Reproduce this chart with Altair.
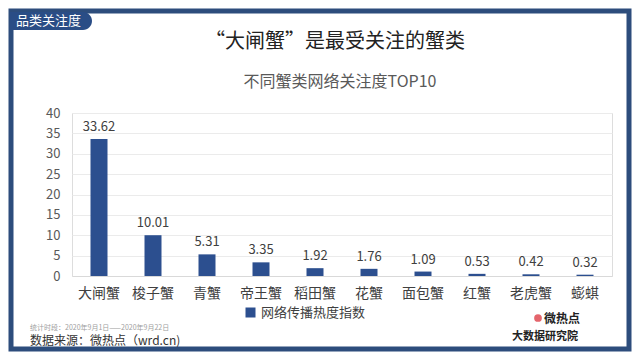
import altair as alt
import pandas as pd

categories = ["大闸蟹", "梭子蟹", "青蟹", "帝王蟹", "稻田蟹", "花蟹", "面包蟹", "红蟹", "老虎蟹", "蟛蜞"]
values = [33.62, 10.01, 5.31, 3.35, 1.92, 1.76, 1.09, 0.53, 0.42, 0.32]
series_name = "网络传播热度指数"
title_text = "“大闸蟹”是最受关注的蟹类"
subtitle_text = "不同蟹类网络关注度TOP10"
tab_text = "品类关注度"
period_text = "统计时段：2020年9月1日——2020年9月22日"
source_text = "数据来源：微热点（wrd.cn)"
logo_top = "微热点"
logo_bottom = "大数据研究院"
y_ticks = [0, 5, 10, 15, 20, 25, 30, 35, 40]

FONT = "Noto Sans CJK SC"
BLUE = "#2c4f8f"
FRAME = "#2d4d7c"

df = pd.DataFrame({"cat": categories, "val": values, "series": [series_name] * len(categories)})

base = alt.Chart(df)
bars = base.mark_bar(size=17).encode(
    x=alt.X("cat:N", sort=categories, title=None,
            axis=alt.Axis(labelAngle=0, labelFontSize=14, labelColor="#404040", labelFont=FONT,
                          domainColor="#d9d9d9", ticks=False, labelPadding=10, grid=False)),
    y=alt.Y("val:Q", scale=alt.Scale(domain=[0, 40], nice=False), title=None,
            axis=alt.Axis(values=y_ticks, tickCount=9, labelOverlap=False, labelFontSize=13,
                          labelColor="#595959", labelFont=FONT,
                          domain=False, ticks=False, labelPadding=12, gridColor="#ebebeb")),
    color=alt.Color("series:N", scale=alt.Scale(range=[BLUE]), title=None,
                    legend=alt.Legend(orient="none", legendX=172, legendY=193, symbolType="square",
                                      symbolSize=100, labelFontSize=13, labelColor="#404040",
                                      labelFont=FONT, symbolStrokeWidth=0)),
)
labels = base.mark_text(dy=-12, fontSize=13, color="#404040", font=FONT).encode(
    x=alt.X("cat:N", sort=categories),
    y="val:Q",
    text=alt.Text("val:Q", format=".2f"),
)


def txt(s, x, y, **kw):
    return alt.Chart(pd.DataFrame({"t": [s]})).mark_text(font=FONT, **kw).encode(
        text="t:N", x=alt.value(x), y=alt.value(y))


frame = alt.Chart(pd.DataFrame({"a": [1]})).mark_rect(
    fill=None, stroke=FRAME, strokeWidth=5).encode(
    x=alt.value(-61), x2=alt.value(557), y=alt.value(-102), y2=alt.value(236))
tab = alt.Chart(pd.DataFrame({"a": [1]})).mark_rect(
    color="#2a4d86", cornerRadiusTopRight=9, cornerRadiusBottomRight=9).encode(
    x=alt.value(-62), x2=alt.value(20), y=alt.value(-101), y2=alt.value(-83))
logo_dot = alt.Chart(pd.DataFrame({"a": [1]})).mark_point(
    filled=True, color="#d9232d", size=60, shape="circle").encode(
    x=alt.value(466), y=alt.value(205))

layers = [
    frame, tab, bars, labels,
    txt(tab_text, -56, -92, fontSize=13, color="white", align="left", baseline="middle"),
    txt(title_text, 263, -71, fontSize=20, color="#222222", align="center", baseline="middle"),
    txt(subtitle_text, 268, -31, fontSize=16, color="#595959", align="center", baseline="middle"),
    txt(period_text, -42, 215, fontSize=7, color="#a0a0a0", align="left", baseline="middle"),
    txt(source_text, -42, 228, fontSize=12, color="#333333", align="left", baseline="middle"),
    logo_dot,
    txt(logo_top, 490, 206, fontSize=12, fontWeight="bold", color="#222222", align="center", baseline="middle"),
    txt(logo_bottom, 473, 224, fontSize=11, fontWeight="bold", color="#222222", align="center", baseline="middle"),
]

chart = alt.layer(*layers).properties(
    width=540, height=163,
    padding={"left": 64, "top": 105, "right": 20, "bottom": 76},
    autosize=alt.AutoSizeParams(type="none"),
).configure_view(stroke=None).configure(background="white")

chart.save("out.html", embed_options={"renderer": "svg", "actions": False})
